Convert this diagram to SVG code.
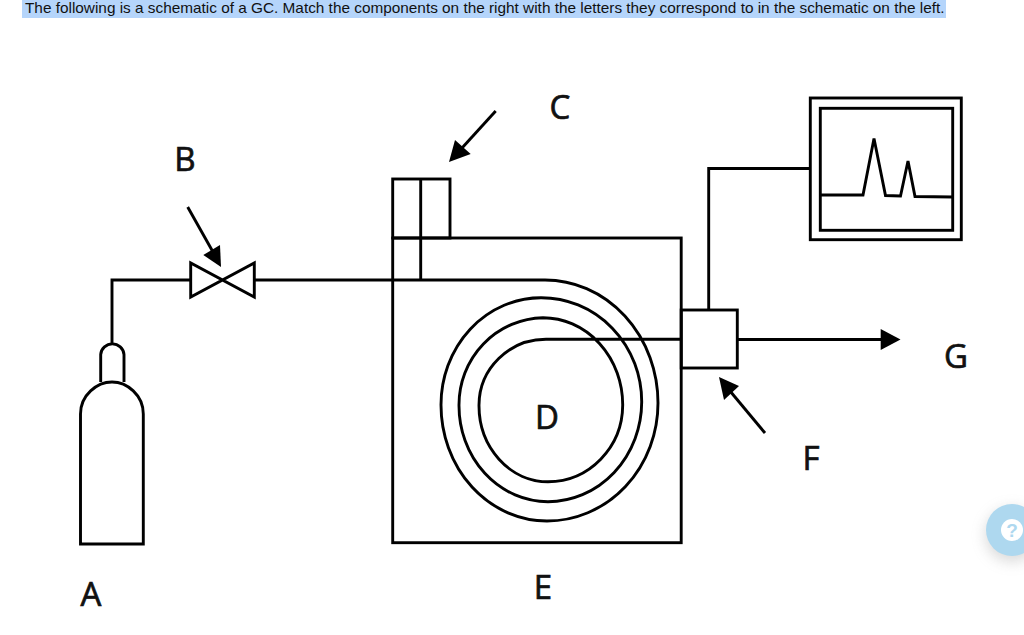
<svg xmlns="http://www.w3.org/2000/svg" width="1024" height="635" viewBox="0 0 1024 635">
<style>
.l{fill:none;stroke:#000;stroke-width:2.9;stroke-linejoin:miter}
.h{fill:#000;stroke:none}
.lab{font-family:"Open Sans","Noto Sans",sans-serif;font-size:33px;fill:#111;stroke:#111;stroke-width:.7;text-anchor:middle}
.hdr{font-family:"Liberation Sans",Arial,sans-serif;font-size:15px;fill:#111}
</style>
<defs><filter id="sh" x="-50%" y="-50%" width="200%" height="200%"><feGaussianBlur stdDeviation="7"/></filter></defs>
<rect width="1024" height="635" fill="#fff"/>
<g id="header"><rect x="22" y="0" width="924" height="18" fill="#b5d5fb"/><text class="hdr" x="25" y="13" textLength="919.500" lengthAdjust="spacingAndGlyphs">The following is a schematic of a GC. Match the components on the right with the letters they correspond to in the schematic on the left.</text></g>
<g id="cylinder"><path class="l" d="M100.700 382V354.500A11.700 11.700 0 0 1 124 354.500V382"/><path class="l" d="M80.500 544V414C80.500 395 97 382 112 382S143.300 395 143.300 414V544Z"/></g>
<g id="valve"><path class="l" d="M190.700 263V297L254.300 263V297Z"/></g>
<g id="oven"><rect class="l" x="392.700" y="238" width="288.500" height="304.700"/></g>
<g id="injector"><rect class="l" x="392.700" y="179" width="57.300" height="59"/><path class="l" d="M420.700 179V280"/></g>
<g id="detector"><rect class="l" x="681.200" y="310" width="56.100" height="58"/></g>
<g id="recorder"><rect class="l" x="810.300" y="98" width="151" height="141.700"/><rect class="l" x="820.300" y="108.300" width="132.400" height="122"/><path class="l" d="M820.300 195H863L874 138.500L885.500 195.500L900.500 196L908 161L915 196.500L952.700 197"/></g>
<g id="connectors">
<path class="l" d="M112 343V280H190.700"/>
<path class="l" d="M254.300 280H545A113 123 0 0 1 658 403A111 118 0 0 1 547 521A106 116 0 0 1 441 405A100 107 0 0 1 541 297.700A100.500 104 0 0 1 641.700 402A94 100 0 0 1 548 501.700A89 96 0 0 1 459 405A86 87 0 0 1 543 317.700A80 87 0 0 1 622.700 405A75 77 0 0 1 548 481.700A69 76 0 0 1 479 405A67 66 0 0 1 546 339.300H681.200"/>
<path class="l" d="M708.700 310V168.500H810.300"/>
<path class="l" d="M737.300 339.500H882"/><path class="h" d="M900.500 339.500L880.700 329V350Z"/>
<path class="l" d="M187.700 207L213 252"/><path class="h" d="M221 267L203.300 255L220 245Z"/>
<path class="l" d="M495.700 111L462 148"/><path class="h" d="M449 162L455 140L470.700 154Z"/>
<path class="l" d="M765 433L730 391"/><path class="h" d="M719 377L739 386L724 400Z"/>
</g>
<g id="labels">
<text class="lab" x="91" y="606">A</text>
<text class="lab" x="185" y="171">B</text>
<text class="lab" x="560" y="119">C</text>
<text class="lab" x="547" y="429">D</text>
<text class="lab" x="543" y="599">E</text>
<text class="lab" x="811" y="470">F</text>
<text class="lab" x="956" y="368">G</text>
</g>
<g id="help"><circle cx="1012" cy="535" r="27" fill="#999" opacity=".35" filter="url(#sh)"/><circle cx="1012" cy="530" r="26" fill="#aed8ef"/><circle cx="1012" cy="530" r="11" fill="#fff"/><text x="1012" y="537" font-family="'Liberation Sans',Arial,sans-serif" font-weight="700" font-size="19" fill="#aed8ef" text-anchor="middle">?</text></g>
</svg>
